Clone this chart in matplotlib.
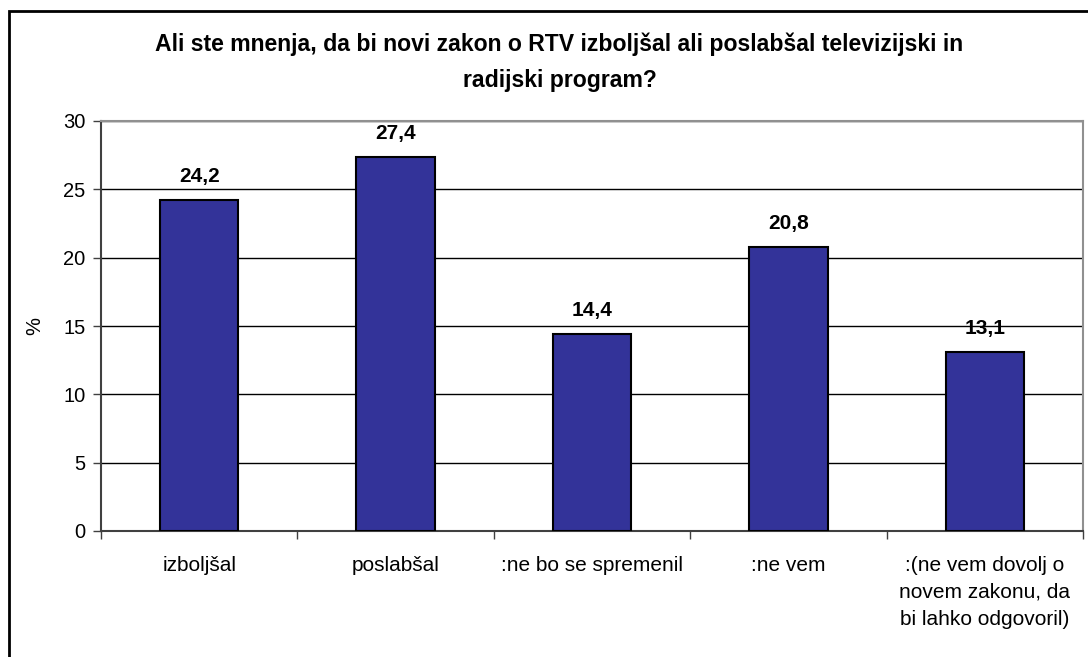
import matplotlib.pyplot as plt
from matplotlib.patches import Rectangle

categories = ["izboljšal", "poslabšal", ":ne bo se spremenil", ":ne vem",
              ":(ne vem dovolj o\nnovem zakonu, da\nbi lahko odgovoril)"]
values = [24.2, 27.4, 14.4, 20.8, 13.1]
value_labels = ["24,2", "27,4", "14,4", "20,8", "13,1"]
yticks = [0, 5, 10, 15, 20, 25, 30]

plt.rcParams['font.family'] = ['Liberation Sans', 'DejaVu Sans']

W, H = 1088, 657
fig = plt.figure(figsize=(W / 100, H / 100), dpi=100)
ax = fig.add_axes([101 / W, 1 - 531 / H, (1083 - 101) / W, (531 - 121) / H])

x = list(range(len(categories)))
ax.bar(x, values, width=0.4, color='#333399', edgecolor='black', linewidth=1.5, zorder=3)

for xi, v, lab in zip(x, values, value_labels):
    ax.annotate(lab, (xi, v), xytext=(0, 10), textcoords='offset points',
                ha='center', va='bottom', fontsize=15, fontweight='bold')

ax.set_xlim(-0.5, len(categories) - 0.5)
ax.set_ylim(0, 30)
ax.set_yticks(yticks)
ax.yaxis.grid(True, color='black', linewidth=1, zorder=0)
ax.tick_params(axis='y', labelsize=14.5, direction='out', length=6, width=1, color='#404040', pad=5)

# category ticks sit on the boundaries, labels at the centres
ax.set_xticks([i - 0.5 for i in range(len(categories) + 1)])
ax.set_xticklabels([])
ax.tick_params(axis='x', direction='out', length=6, width=1, color='#404040')
for xi, c in zip(x, categories):
    ax.text(xi, -0.06, c, transform=ax.get_xaxis_transform(), ha='center', va='top',
            fontsize=15, linespacing=1.55)

ax.spines['left'].set_color('#404040')
ax.spines['bottom'].set_color('#404040')
ax.spines['top'].set_color('#909090')
ax.spines['right'].set_color('#909090')
for s in ax.spines.values():
    s.set_linewidth(1.5)

ax.set_ylabel('%', fontsize=14.5, labelpad=14)

fig.text((152 + 967) / 2 / W, 1 - 62 / H,
         "Ali ste mnenja, da bi novi zakon o RTV izboljšal ali poslabšal televizijski in\nradijski program?",
         ha='center', va='center', fontsize=16.6, fontweight='bold', linespacing=1.7)

# outer chart border (cropped at right and bottom)
fig.patches.append(Rectangle((9 / W, -0.1), 1.2, 1 - 11 / H + 0.1, transform=fig.transFigure,
                             fill=False, edgecolor='black', linewidth=2))

fig.savefig('out.png', dpi=100)
